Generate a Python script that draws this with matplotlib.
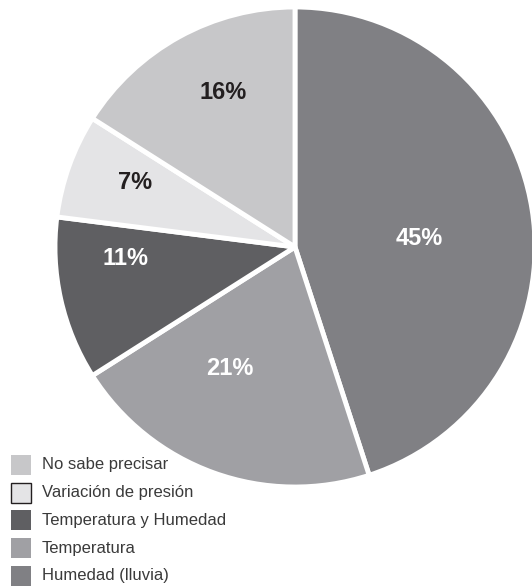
import matplotlib
matplotlib.use("Agg")
import matplotlib.pyplot as plt
from matplotlib.patches import Rectangle
import numpy as np

plt.rcParams['font.family'] = ['Liberation Sans', 'DejaVu Sans']

# slices, clockwise from the top
categories = ['Humedad (lluvia)', 'Temperatura', 'Temperatura y Humedad',
              'Variación de presión', 'No sabe precisar']
shares = [45, 21, 11, 7, 16]
colors = ['#808084', '#a0a0a4', '#5f5f62', '#e4e4e6', '#c7c7c9']
text_colors = ['white', 'white', 'white', '#231f20', '#231f20']

W, H = 532, 587
fig = plt.figure(figsize=(W / 100, H / 100), dpi=100)
ax = fig.add_axes([0, 0, 1, 1])

cx, cy, R = 295, H - 247, 240
wedges, _ = ax.pie(shares, colors=colors, startangle=90, counterclock=False,
                   center=(cx, cy), radius=R,
                   wedgeprops=dict(edgecolor='white', linewidth=3.5,
                                   joinstyle='bevel'))

# percentage labels: (angle in degrees, distance from centre in px)
label_place = [(4, 125), (-118, 138), (184, 170), (158, 172), (115, 171)]
for v, (ang, r), tc in zip(shares, label_place, text_colors):
    a = np.deg2rad(ang)
    ax.text(cx + r * np.cos(a), cy + r * np.sin(a), f'{v}%',
            ha='center', va='center', color=tc, fontsize=17,
            fontweight='bold')

# legend, top to bottom in reverse slice order
row_y = H - 465
for i, idx in enumerate(range(len(categories) - 1, -1, -1)):
    y = row_y - i * 27.7
    edge = '#231f20' if idx == 3 else 'none'
    ax.add_patch(Rectangle((11, y - 10), 20, 20, facecolor=colors[idx],
                           edgecolor=edge, linewidth=1.0))
    ax.text(42, y, categories[idx], ha='left', va='center',
            fontsize=12, color='#3a3a3a')

ax.set_xlim(0, W)
ax.set_ylim(0, H)
ax.set_aspect('auto')
ax.axis('off')

fig.savefig('out.png', dpi=100)
